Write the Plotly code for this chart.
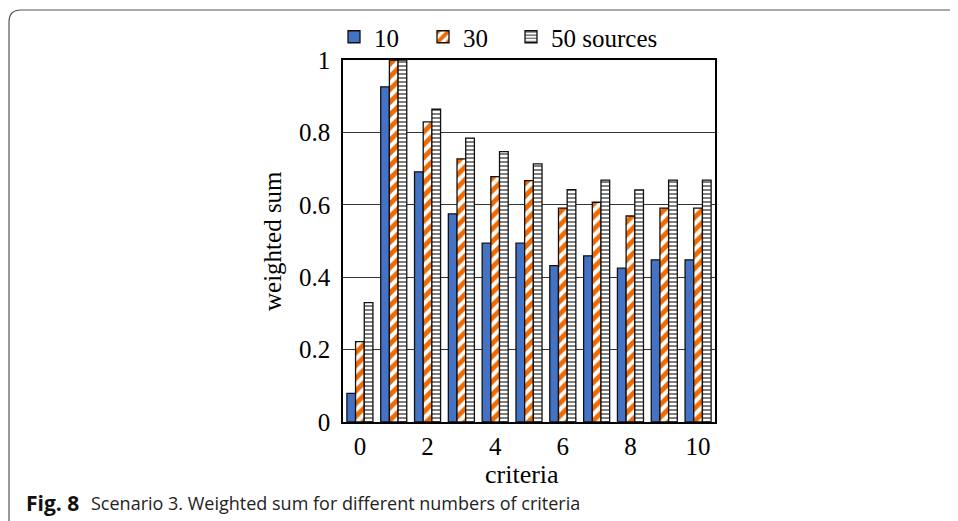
import plotly.graph_objects as go

W, H = 958, 521
OFF = 8  # page body margin offset

criteria = list(range(11))
s10 = [0.079, 0.926, 0.691, 0.575, 0.494, 0.494, 0.432, 0.459, 0.425, 0.448, 0.448]
s30 = [0.222, 1.0, 0.829, 0.727, 0.678, 0.667, 0.591, 0.607, 0.569, 0.591, 0.591]
s50 = [0.330, 1.0, 0.864, 0.784, 0.747, 0.713, 0.642, 0.668, 0.641, 0.668, 0.668]
series_names = ["10", "30", "50 sources"]
x_ticks = [0, 2, 4, 6, 8, 10]
y_ticks = [0, 0.2, 0.4, 0.6, 0.8, 1]
y_tick_labels = ["0", "0.2", "0.4", "0.6", "0.8", "1"]

SERIF = "Liberation Serif, Times New Roman, serif"
SANS = "Open Sans, Noto Sans, sans-serif"
FS = 25

def px(x):
    return (x - OFF) / W

def py(y):
    return 1 - (y - OFF) / H

fig = go.Figure()
fig.add_trace(go.Bar(
    x=criteria, y=s10, name=series_names[0], legend="legend",
    marker=dict(color="#4472C4", line=dict(color="#111111", width=1.3)),
))
fig.add_trace(go.Bar(
    x=criteria, y=s30, name=series_names[1], legend="legend2",
    marker=dict(color="white", line=dict(color="#111111", width=1.3),
                pattern=dict(shape="/", fgcolor="#F06A00", fgopacity=1, bgcolor="white",
                             size=9, solidity=0.55, fillmode="overlay")),
))
fig.add_trace(go.Bar(
    x=criteria, y=s50, name=series_names[2], legend="legend3",
    marker=dict(color="white", line=dict(color="#111111", width=1.3),
                pattern=dict(shape="-", fgcolor="#808080", fgopacity=1, bgcolor="white",
                             size=4, solidity=0.5, fillmode="overlay")),
))

frame_path = (
    f"M {px(9)},{py(530)} L {px(9)},{py(22)} Q {px(9)},{py(10)} {px(21)},{py(10)} "
    f"L {px(966)},{py(10)}"
)

def leg(xpix):
    return dict(orientation="h", x=px(xpix), xanchor="left", y=py(37), yanchor="middle",
                font=dict(family=SERIF, size=FS), bgcolor="rgba(0,0,0,0)")

fig.update_layout(
    width=W, height=H, autosize=False,
    margin=dict(l=0, r=0, t=0, b=0, pad=0),
    paper_bgcolor="white", plot_bgcolor="white",
    barmode="group", bargap=0.23, bargroupgap=0,
    font=dict(family=SERIF, size=FS, color="black"),
    showlegend=True,
    legend=leg(334), legend2=leg(423), legend3=leg(511),
    xaxis=dict(domain=[px(343), px(715)], range=[-0.5, 10.5],
               tickvals=x_ticks, ticktext=[str(v) for v in x_ticks],
               showline=True, mirror=True, linecolor="black", linewidth=1.5,
               showgrid=False, zeroline=False, ticks="", ticklabelstandoff=1,
               automargin=False, tickfont=dict(family=SERIF, size=FS)),
    yaxis=dict(domain=[py(422), py(60)], range=[0, 1],
               tickvals=y_ticks, ticktext=y_tick_labels,
               showline=True, mirror=True, linecolor="black", linewidth=1.5,
               showgrid=True, gridcolor="#333333", gridwidth=1,
               zeroline=False, ticks="", ticklabelstandoff=6,
               automargin=False, tickfont=dict(family=SERIF, size=FS)),
    shapes=[dict(type="path", xref="paper", yref="paper", path=frame_path,
                 line=dict(color="#555555", width=1.2))],
    annotations=[
        dict(text="criteria", xref="paper", yref="paper", x=px(522), y=py(474),
             xanchor="center", yanchor="middle", showarrow=False,
             font=dict(family=SERIF, size=FS + 1)),
        dict(text="weighted sum", xref="paper", yref="paper", x=px(272), y=py(241),
             xanchor="center", yanchor="middle", showarrow=False, textangle=-90,
             font=dict(family=SERIF, size=FS)),
        dict(text="<b>Fig. 8</b>", xref="paper", yref="paper", x=px(24), y=py(503),
             xanchor="left", yanchor="middle", showarrow=False,
             font=dict(family=SANS, size=21, color="#111111")),
        dict(text="Scenario 3. Weighted sum for different numbers of criteria",
             xref="paper", yref="paper", x=px(89), y=py(503),
             xanchor="left", yanchor="middle", showarrow=False,
             font=dict(family=SANS, size=18, color="#222222")),
    ],
)

fig.write_html("out.html")
